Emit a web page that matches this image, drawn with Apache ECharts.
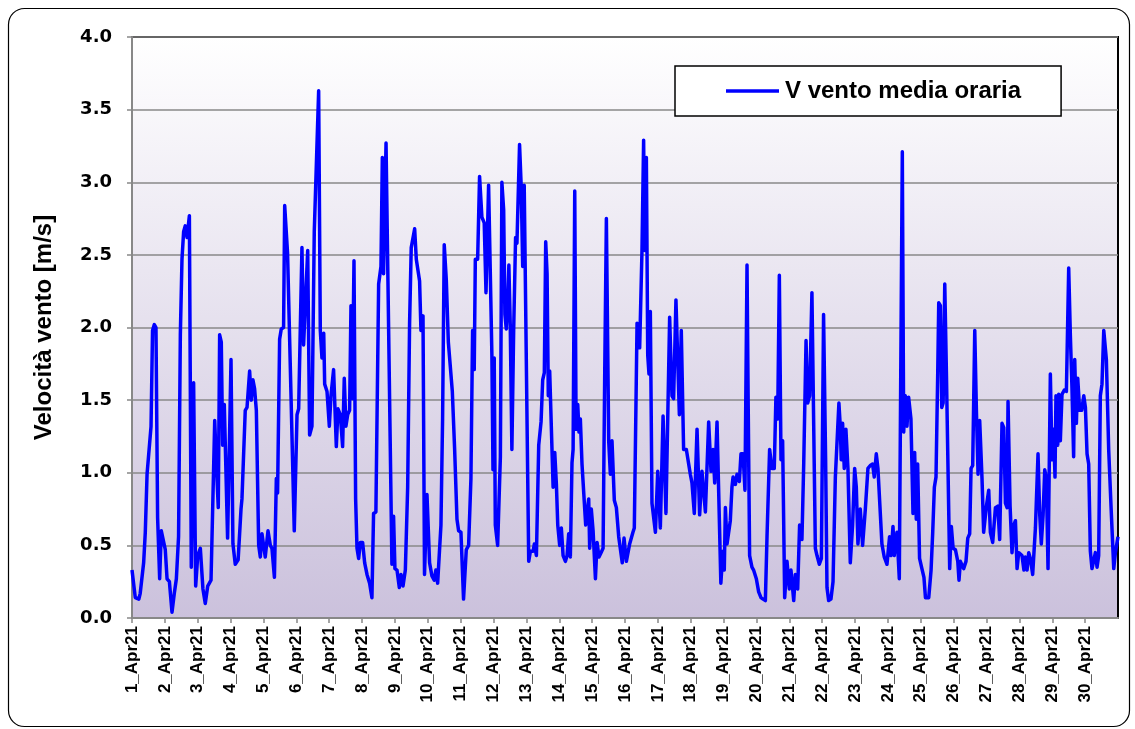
<!DOCTYPE html>
<html>
<head>
<meta charset="utf-8">
<script src="https://cdn.jsdelivr.net/npm/echarts@6/dist/echarts.min.js"></script>
<style>
html,body{margin:0;padding:0;background:#fff;}
#chart{width:1135px;height:729px;}
</style>
</head>
<body>
<div id="chart"></div>
<script>
// Day tick labels (one per 24 hours)
const dayLabels = ['1_Apr21','2_Apr21','3_Apr21','4_Apr21','5_Apr21','6_Apr21','7_Apr21','8_Apr21','9_Apr21','10_Apr21',
  '11_Apr21','12_Apr21','13_Apr21','14_Apr21','15_Apr21','16_Apr21','17_Apr21','18_Apr21','19_Apr21','20_Apr21',
  '21_Apr21','22_Apr21','23_Apr21','24_Apr21','25_Apr21','26_Apr21','27_Apr21','28_Apr21','29_Apr21','30_Apr21'];

// Hour since 1 Apr 00:00 of each read point
const hours = [0,2.4,5,6,7,8.5,9.7,11,12,13.9,15,16.3,17.5,18.7,20.2,21.4,22.4,24.3,25.6,27.3,29.2,30.9,32.4,34,35.3,36.5,37.7,38.9,40.2,41.9,42.6,43.3,44.3,45,45.8,46.5,48,49.9,50.6,51.8,53.5,55.3,57.7,60.4,61.6,63,64,65.2,66.2,67.4,68.3,69.8,72.3,73.7,75.4,77.5,79.6,80.3,82.7,84,85.9,87.1,88.3,89.5,90.8,92.5,93.7,94.9,97.3,99.3,101,102.2,104,105.4,106.3,107.8,109,110.7,111.5,112.7,113.6,114.9,118.5,120.5,121.7,124.1,125.3,126.5,128.3,129.7,131.4,133.1,136.3,137.5,138.7,140,140.7,142.4,144.1,145.3,147.2,148.5,149.2,150.4,152.1,153.8,155,156.2,157.5,158.9,159.9,160.9,162.1,163.3,164.3,165.5,166.7,168.4,169.9,171.6,173.5,175.2,176.4,178.1,180.1,181.8,182.8,183.7,185.5,186.9,189.8,191,192,193.5,195.2,196.4,197.9,199.6,201.3,202.7,203.9,205.2,206.4,207.6,208.8,210,211,212.5,213.6,215.4,217.3,219,220.7,221.9,223.2,225.6,226.8,228,229.5,231,232.4,233.9,235.6,237.3,238.5,240.2,242.1,244.1,245.8,247.5,248.7,249.9,250.7,252.4,253.8,255.5,257.2,258.5,259.4,260.4,261.6,262.8,263.6,264.5,265.3,267,269,270.1,271.4,272.3,273.3,274.3,275.2,276.2,277.4,278.7,280.1,281.1,283,284.2,285.3,286.4,289.7,290.9,292.9,293.8,295.3,297,298.7,299.9,301.1,302.1,303.1,304,305,306.2,307.5,308.7,309.9,310.9,312.3,313.5,314.8,316.5,317.7,318.9,320.1,321.3,322.1,323.3,324.3,325.5,326.4,327.4,328.6,329.8,331.3,332.3,333.5,334.2,335.4,336.7,338.4,339.6,341,342.5,344,345.2,346.4,348.1,349.3,350.5,352.2,353.7,355.4,358,359.3,361,363.4,365.8,366.8,368.8,370.7,372.4,373.6,374.4,375.6,376.6,377.5,378.5,379.7,382.2,383.9,385.8,387.8,389.9,392.6,394.3,395.5,397.2,399.7,401.1,402.8,404.8,407.7,408.9,410.6,412.6,414.5,416.2,418.7,421.1,422.8,424.3,425.5,427.2,430,431.5,432.5,433.3,434.5,435.7,436.9,438.1,438.9,440.6,441.8,443.5,444.7,446.2,447.6,449.1,450,451,452.7,453.9,455.9,457.6,459.3,460.8,462.5,463.7,465.6,467.3,469,470.2,471.5,472.7,473.9,475.1,476.6,478.3,480,481.2,483.2,484.4,486.1,487.5,489.2,490.5,492.2,493.4,494.8,496.5,499,500.2,501.9,503.4,505,506.5,507.5,508.7,510.4,511.9,513.6,514.8,516.2,517.2,517.9,518.9,520.1,521.3,522.8,524.5,526.2,527.7,528.9,530.1,531.8,533.5,535.5,537.4,539.1,540.8,542,543.5,544.7,545.9,547.6,549.3,551.3,553.2,554.2,555.7,556.6,558.6,560.3,561.3,562.5,563.5,564.7,565.9,567.1,568.8,570.3,571.5,572.7,573.7,575.1,576.8,578.3,579.4,581.8,583.5,584.7,585.9,587.1,588.4,589.1,590.3,591.3,592.3,593.5,594.7,597.1,598.3,599.6,601.3,603,603.9,604.9,607.3,609,610.3,611.7,612.7,613.9,615.4,616.6,617.8,619,620.7,621.9,623.9,625.6,626.8,628.5,630.5,632.2,633.6,635.3,636.6,637.8,639,639.7,641.2,642.6,643.9,645.1,646.3,647.5,648.7,649.9,651.3,652.3,653.6,654.8,656,657.7,659.7,661.6,662.8,664,665.3,666.5,667.7,668.9,670.6,671.8,673,674,674.7,676,676.7,677.9,679.1,680.8,682.3,684,685.2,686.4,687.6,688.4,689.6,690.6,692,693.5,695,696.2,697.4,698.6,699.8,701,702.3,703.5,704.7,705.9,707.1,708.3,709.6,711.5,712.5,713.2,714.9,716.9,718.1,719.3,720];

// Hourly mean wind speed [m/s] at those hours
const speed = [0.33,0.14,0.13,0.17,0.16,0.38,0.59,0.99,1.00,1.32,1.98,2.02,2.00,0.69,0.27,0.60,0.59,0.47,0.27,0.25,0.04,0.17,0.27,0.56,1.95,2.47,2.66,2.70,2.62,2.77,2.76,0.35,0.34,1.62,1.62,0.22,0.43,0.48,0.48,0.20,0.10,0.22,0.26,1.36,1.06,0.76,1.95,1.90,1.19,1.47,1.46,0.55,1.78,0.51,0.37,0.40,0.75,0.82,1.43,1.45,1.70,1.50,1.64,1.58,1.43,0.50,0.42,0.58,0.42,0.60,0.50,0.48,0.28,0.96,0.86,1.92,1.99,2.00,2.84,2.84,2.51,2.50,0.60,1.40,1.44,2.55,1.88,1.88,2.53,1.26,1.32,2.66,3.63,1.98,1.79,1.96,1.61,1.56,1.32,1.53,1.71,1.71,1.18,1.44,1.40,1.18,1.65,1.32,1.40,1.43,2.15,1.51,2.46,0.82,0.48,0.41,0.52,0.52,0.38,0.30,0.24,0.14,0.72,0.73,2.30,2.42,3.17,2.37,3.27,2.32,0.37,0.70,0.34,0.33,0.21,0.30,0.22,0.33,0.90,2.03,2.55,2.54,2.68,2.47,2.46,2.32,1.98,2.08,0.30,0.85,0.38,0.29,0.26,0.33,0.24,0.64,1.37,2.57,2.33,1.90,1.91,1.56,1.16,0.68,0.60,0.59,0.13,0.47,0.50,0.96,1.98,1.71,2.47,2.47,3.04,2.76,2.72,2.24,2.24,2.98,2.98,1.81,1.02,1.79,0.64,0.50,1.11,3.00,2.81,2.09,1.99,2.16,2.43,2.02,1.16,1.98,2.62,2.58,3.26,2.97,2.42,2.98,0.39,0.46,0.46,0.51,0.43,1.19,1.35,1.64,1.69,2.59,2.37,1.53,1.70,1.69,0.90,1.14,0.92,0.64,0.50,0.62,0.43,0.39,0.43,0.58,0.42,1.07,1.16,2.94,1.30,1.47,1.28,1.37,1.06,1.05,0.64,0.64,0.82,0.48,0.75,0.60,0.27,0.52,0.42,0.45,0.48,1.69,2.75,1.22,0.99,1.22,0.81,0.76,0.56,0.38,0.55,0.39,0.51,0.59,0.62,2.03,1.86,2.53,3.29,2.53,3.17,1.81,1.68,2.11,0.79,0.59,1.01,0.62,1.39,0.72,2.07,1.53,1.51,2.19,1.40,1.98,1.16,1.16,0.99,0.93,0.72,1.30,0.71,1.01,0.73,1.35,1.01,1.16,0.93,1.35,0.24,0.46,0.33,0.76,0.51,0.51,0.67,0.90,0.97,0.92,0.99,0.94,1.13,1.13,0.88,2.43,1.43,0.43,0.35,0.33,0.27,0.18,0.14,0.13,0.12,0.56,1.16,1.03,1.03,1.52,1.37,2.36,1.09,1.22,0.14,0.39,0.20,0.33,0.12,0.30,0.20,0.64,0.54,1.06,1.91,1.48,1.53,2.24,0.48,0.43,0.37,0.41,2.09,1.09,0.21,0.12,0.13,0.25,0.97,0.98,1.48,1.32,1.09,1.34,1.03,1.30,1.03,0.38,0.64,1.03,0.90,0.51,0.75,0.50,0.75,1.03,1.05,1.06,0.97,1.13,1.03,1.02,0.51,0.42,0.37,0.56,0.43,0.63,0.43,0.59,0.27,0.27,3.21,1.28,1.53,1.32,1.52,1.37,0.72,1.14,0.68,1.06,0.41,0.34,0.28,0.14,0.14,0.33,0.59,0.90,0.97,1.71,2.17,2.15,1.45,1.48,2.30,1.69,0.34,0.63,0.48,0.47,0.39,0.26,0.39,0.34,0.39,0.55,0.58,1.03,1.05,1.98,1.43,0.99,1.36,0.96,0.59,0.77,0.88,0.59,0.52,0.76,0.77,0.54,1.34,1.31,0.79,0.76,1.49,0.77,0.45,0.64,0.67,0.34,0.45,0.44,0.43,0.33,0.42,0.33,0.45,0.41,0.30,0.62,1.13,0.72,0.51,0.71,1.02,0.96,0.34,1.68,1.09,1.30,0.97,1.53,1.19,1.54,1.22,1.54,1.57,1.56,2.41,1.95,1.58,1.11,1.78,1.34,1.65,1.43,1.43,1.53,1.45,1.13,1.06,0.46,0.34,0.34,0.45,0.35,0.43,1.53,1.61,1.98,1.78,1.79,1.16,0.77,0.34,0.45,0.45,0.56];

const yTicks = ['0.0','0.5','1.0','1.5','2.0','2.5','3.0','3.5','4.0'];
const seriesName = 'V vento media oraria';
const yTitle = 'Velocità vento [m/s]';

const chart = echarts.init(document.getElementById('chart'), null, {renderer: 'canvas'});
const BOLD = 'Liberation Sans, Arial, sans-serif';

chart.setOption({
  animation: false,
  backgroundColor: '#ffffff',
  graphic: [{
    type: 'rect', z: -10, silent: true,
    shape: {x: 8.5, y: 8.5, width: 1121, height: 718, r: 16},
    style: {fill: '#ffffff', stroke: '#000000', lineWidth: 1.2}
  }],
  grid: {
    left: 132, top: 37, width: 986, height: 581,
    show: true,
    borderColor: '#000000', borderWidth: 2,
    backgroundColor: new echarts.graphic.LinearGradient(0, 0, 0, 1, [
      {offset: 0, color: '#ffffff'},
      {offset: 1, color: '#cbc1dc'}
    ])
  },
  legend: {
    data: [seriesName],
    left: 675, top: 66,
    orient: 'horizontal',
    backgroundColor: '#ffffff',
    borderColor: '#000000', borderWidth: 1.5, borderRadius: 0,
    padding: [13, 40, 13, 51],
    icon: 'rect', itemWidth: 53, itemHeight: 3.5, itemGap: 0,
    textStyle: {fontFamily: BOLD, fontWeight: 'bold', fontSize: 24, color: '#000', padding: [0,0,0,1]}
  },
  xAxis: {
    type: 'value', min: 0, max: 720, interval: 24,
    axisLine: {show: true, lineStyle: {color: '#888888', width: 2}},
    axisTick: {show: true, length: 5, lineStyle: {color: '#888888', width: 1.5}},
    splitLine: {show: false},
    axisLabel: {
      rotate: 90, margin: 8, showMaxLabel: false,
      fontFamily: BOLD, fontWeight: 'bold', fontSize: 17, color: '#000',
      formatter: function (v) { return dayLabels[Math.round(v / 24)] || ''; }
    }
  },
  yAxis: {
    type: 'value', min: 0, max: 4, interval: 0.5,
    name: yTitle, nameLocation: 'middle', nameGap: 76,
    nameTextStyle: {fontFamily: BOLD, fontWeight: 'bold', fontSize: 24, color: '#000'},
    axisLine: {show: true, lineStyle: {color: '#888888', width: 2}},
    axisTick: {show: true, length: 5, lineStyle: {color: '#888888', width: 1.5}},
    splitLine: {show: true, lineStyle: {color: '#888888', width: 1.5}},
    axisLabel: {
      margin: 20,
      fontFamily: 'DejaVu Sans', fontWeight: 'bold', fontSize: 18, color: '#000',
      formatter: function (v) { return yTicks[Math.round(v / 0.5)]; }
    }
  },
  series: [{
    name: seriesName,
    type: 'line',
    showSymbol: false,
    symbol: 'none',
    data: hours.map(function (h, i) { return [h, speed[i]]; }),
    lineStyle: {color: '#0000ff', width: 3.5, join: 'round'},
    itemStyle: {color: '#0000ff'},
    z: 5
  }]
});
</script>
</body>
</html>
